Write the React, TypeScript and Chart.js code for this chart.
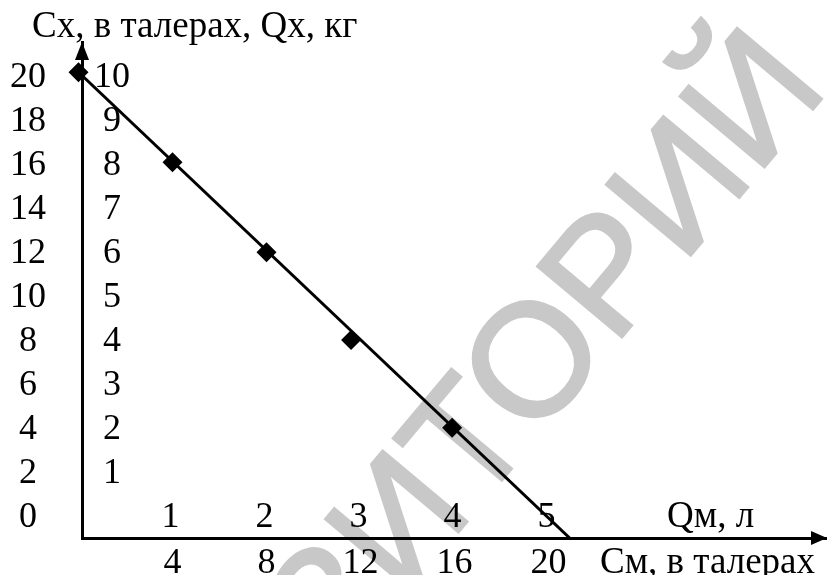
import React, { useEffect, useRef } from "react";
import { Chart, registerables } from "chart.js";

Chart.register(...registerables);

// ---- data ----
const markerC_m = [0, 4, 8, 11.6, 15.9]; // См, в талерах
const markerC_x = [20, 16, 12, 8.1, 4.2]; // Сх, в талерах
const lineC_m = [0, 20.9];
const lineC_x = [20, -0.7];
const yTicksC = [0, 2, 4, 6, 8, 10, 12, 14, 16, 18, 20];
const yTicksQ = [1, 2, 3, 4, 5, 6, 7, 8, 9, 10]; // Qх, кг (row of Сх = 2·Qх)
const xTicksC = [4, 8, 12, 16, 20];
const xTicksQ = [1, 2, 3, 4, 5]; // Qм, л (column of См = 4·Qм)
const yTitle = "Сх, в талерах, Qх, кг";
const xTitleQ = "Qм, л";
const xTitleC = "См, в талерах";
const watermark = "РЕПОЗИТОРИЙ";

const SERIF = "'Liberation Serif', 'Times New Roman', serif";
const FS = 36;
const FS_T = 37;

const labelsPlugin = {
  id: "labels",
  beforeDraw(chart: any) {
    const ctx = chart.ctx as CanvasRenderingContext2D;
    ctx.save();
    ctx.fillStyle = "#ffffff";
    ctx.fillRect(0, 0, chart.width, chart.height);
    ctx.translate(830, 89);
    ctx.rotate((-50 * Math.PI) / 180);
    ctx.font = "160px 'Liberation Sans', Arial, sans-serif";
    ctx.fillStyle = "#c8c8c8";
    ctx.strokeStyle = "#c8c8c8";
    ctx.lineWidth = 3;
    ctx.lineJoin = "miter";
    ctx.textAlign = "right";
    ctx.textBaseline = "alphabetic";
    ctx.fillText(watermark, 0, 0);
    ctx.strokeText(watermark, 0, 0);
    ctx.restore();
  },
  afterDraw(chart: any) {
    const ctx = chart.ctx as CanvasRenderingContext2D;
    const { left, bottom, top, right } = chart.chartArea;
    const x = chart.scales.x;
    const yl = chart.scales.yl;
    ctx.save();
    ctx.fillStyle = "#000";
    // arrows
    ctx.beginPath();
    ctx.moveTo(left, top);
    ctx.lineTo(left - 7, top + 18);
    ctx.lineTo(left + 7, top + 18);
    ctx.closePath();
    ctx.fill();
    ctx.beginPath();
    ctx.moveTo(right, bottom);
    ctx.lineTo(right - 16, bottom - 7);
    ctx.lineTo(right - 16, bottom + 7);
    ctx.closePath();
    ctx.fill();

    ctx.font = `${FS}px ${SERIF}`;
    ctx.textBaseline = "alphabetic";
    ctx.textAlign = "center";
    yTicksC.forEach((v) => {
      ctx.fillText(String(v), left - 54, yl.getPixelForValue(v));
    });
    yTicksQ.forEach((q) => {
      ctx.fillText(String(q), left + 30, yl.getPixelForValue(q * 2));
    });
    xTicksQ.forEach((q) => {
      ctx.fillText(String(q), x.getPixelForValue(q * 4) - 2, bottom - 11);
    });
    xTicksC.forEach((c) => {
      ctx.fillText(String(c), x.getPixelForValue(c), bottom + 35);
    });
    ctx.font = `${FS_T}px ${SERIF}`;
    ctx.textAlign = "left";
    ctx.fillText(yTitle, 32, 37);
    ctx.fillText(xTitleQ, 667, bottom - 11);
    ctx.fillText(xTitleC, 600, bottom + 35);
    ctx.restore();
  },
};

export default function App() {
  const ref = useRef<HTMLCanvasElement | null>(null);
  useEffect(() => {
    if (!ref.current) return;
    const chart = new Chart(ref.current, {
      type: "scatter",
      data: {
        datasets: [
          {
            type: "line",
            data: lineC_m.map((m, i) => ({ x: m, y: lineC_x[i] })),
            borderColor: "#000",
            borderWidth: 3,
            pointRadius: 0,
            showLine: true,
            fill: false,
          } as any,
          {
            type: "scatter",
            data: markerC_m.map((m, i) => ({ x: m, y: markerC_x[i] })),
            backgroundColor: "#000",
            borderColor: "#000",
            pointStyle: "rectRot",
            pointRadius: 10,
            borderWidth: 0,
            clip: false,
          } as any,
        ],
      },
      options: {
        animation: false,
        responsive: false,
        events: [],
        layout: { autoPadding: false, padding: { left: 82, top: 42, right: 0, bottom: 37 } },
        plugins: { legend: { display: false }, tooltip: { enabled: false } },
        scales: {
          x: {
            type: "linear",
            min: 0.15,
            max: 31.85,
            ticks: { display: false },
            grid: { display: false, drawTicks: false },
            border: { display: true, color: "#000", width: 3 },
          },
          y: {
            type: "linear",
            min: -0.7,
            max: 21.34,
            ticks: { display: false },
            grid: { display: false, drawTicks: false },
            border: { display: true, color: "#000", width: 3 },
          },
          yl: {
            type: "linear",
            position: "left",
            display: false,
            min: -0.5,
            max: 22.05,
          },
        },
      },
      plugins: [labelsPlugin],
    });
    return () => chart.destroy();
  }, []);
  return (
    <div style={{ position: "fixed", left: 0, top: 0, width: 827, height: 575, background: "#fff" }}>
      <canvas ref={ref} width={827} height={575} style={{ display: "block" }} />
    </div>
  );
}
